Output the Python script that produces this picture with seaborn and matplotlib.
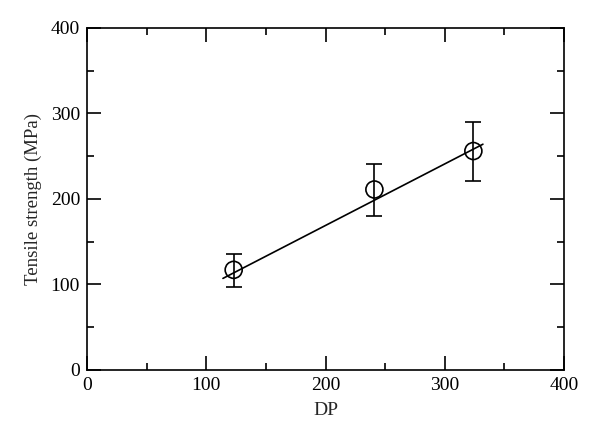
import matplotlib
matplotlib.use('Agg')
import matplotlib.pyplot as plt
import seaborn as sns
import pandas as pd
from matplotlib.ticker import MultipleLocator

# --- DATA ---
dp = [123, 241, 324]
strength = [117, 211, 256]
err_low = [20, 31, 35]
err_high = [19, 30, 34]

# linear fit line end points
fit_dp = [114, 332]
fit_strength = [107, 264]

sns.set_style("ticks")
plt.rcParams['font.family'] = ['Liberation Serif', 'DejaVu Serif']

fig = plt.figure(figsize=(6, 4.44), dpi=100)
ax = fig.add_axes([0.145, 0.167, 0.795, 0.77])

df = pd.DataFrame({'DP': dp, 'Tensile': strength})
fit = pd.DataFrame({'DP': fit_dp, 'Tensile': fit_strength})

sns.lineplot(data=fit, x='DP', y='Tensile', color='black', linewidth=1.2, ax=ax)
ax.errorbar(dp, strength, yerr=[err_low, err_high], fmt='none', ecolor='black',
            elinewidth=1.2, capsize=6, capthick=1.2)
sns.scatterplot(data=df, x='DP', y='Tensile', marker='o', s=150,
                facecolor='none', edgecolor='black', linewidth=1.2, ax=ax, zorder=5)

ax.set_xlim(0, 400)
ax.set_ylim(0, 400)
ax.xaxis.set_major_locator(MultipleLocator(100))
ax.xaxis.set_minor_locator(MultipleLocator(50))
ax.yaxis.set_major_locator(MultipleLocator(100))
ax.yaxis.set_minor_locator(MultipleLocator(50))
ax.tick_params(which='both', direction='in', top=True, right=True, width=1.2,
               labelsize=14, colors='black')
ax.tick_params(which='major', length=10, pad=5)
ax.tick_params(which='minor', length=5)
for s in ax.spines.values():
    s.set_linewidth(1.2)
    s.set_color('black')

ax.set_xlabel('DP', fontsize=14, labelpad=6)
ax.set_ylabel('Tensile strength (MPa)', fontsize=13.5, labelpad=6)

fig.savefig('out.png', dpi=100, facecolor='white')
